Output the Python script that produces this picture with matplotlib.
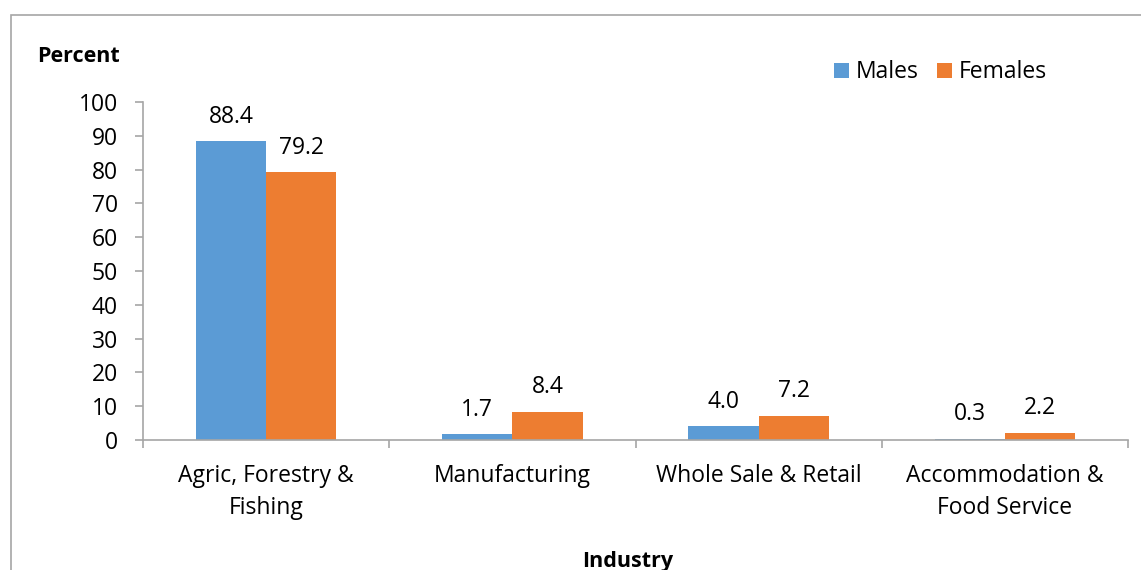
import numpy as np
import matplotlib.pyplot as plt
from matplotlib.patches import Rectangle

industries = ['Agric, Forestry &\nFishing', 'Manufacturing', 'Whole Sale & Retail',
              'Accommodation &\nFood Service']
males = [88.4, 1.7, 4.0, 0.3]
females = [79.2, 8.4, 7.2, 2.2]

blue = '#5B9BD5'
orange = '#ED7D31'
grey = '#A6A6A6'
fs = 16.5

plt.rcParams['font.family'] = ['Open Sans', 'DejaVu Sans']

fig = plt.figure(figsize=(11.41, 5.70), dpi=100)
ax = fig.add_axes([143 / 1141, 130 / 570, 985 / 1141, 338 / 570])

# outer chart frame
fig.patches.append(Rectangle((11 / 1141, -0.05), 1.2, (570 - 15) / 570 + 0.05,
                             transform=fig.transFigure, fill=False,
                             edgecolor=grey, linewidth=1.2))

x = np.arange(len(industries))
w = 0.285
b1 = ax.bar(x - w / 2, males, w, color=blue, label='Males')
b2 = ax.bar(x + w / 2, females, w, color=orange, label='Females')

for bars, vals in ((b1, males), (b2, females)):
    for bar, v in zip(bars, vals):
        ax.annotate(f'{v:.1f}', (bar.get_x() + bar.get_width() / 2, v),
                    xytext=(0, 9), textcoords='offset points',
                    ha='center', va='bottom', fontsize=fs)

ax.set_xlim(-0.5, len(industries) - 0.5)
ax.set_ylim(0, 100)
ax.set_yticks(np.arange(0, 101, 10))
ax.set_xticks(x)
ax.set_xticklabels(industries, fontsize=fs, linespacing=1.45)
ax.set_xticks(np.arange(-0.5, len(industries)), minor=True)
ax.tick_params(axis='x', which='major', length=0, pad=17)
ax.tick_params(axis='x', which='minor', length=6, color=grey, width=1.2)
ax.tick_params(axis='y', length=6, color=grey, width=1.2, labelsize=fs, pad=12)

for s in ('top', 'right'):
    ax.spines[s].set_visible(False)
for s in ('left', 'bottom'):
    ax.spines[s].set_color(grey)
    ax.spines[s].set_linewidth(1.2)

fig.text(37 / 1141, 1 - 57 / 570, 'Percent', fontsize=15.5, fontweight='bold',
         va='center', ha='left')
fig.text(628 / 1141, 1 - 562 / 570, 'Industry', fontsize=15.5, fontweight='bold',
         va='center', ha='center')

ax.legend(loc='upper left', bbox_to_anchor=(823 / 1141, 1 - 49 / 570),
          bbox_transform=fig.transFigure, ncol=2, frameon=False, fontsize=fs,
          handlelength=0.65, handleheight=0.65, handletextpad=0.3,
          columnspacing=0.8, borderpad=0)

fig.savefig('out.png', dpi=100)
